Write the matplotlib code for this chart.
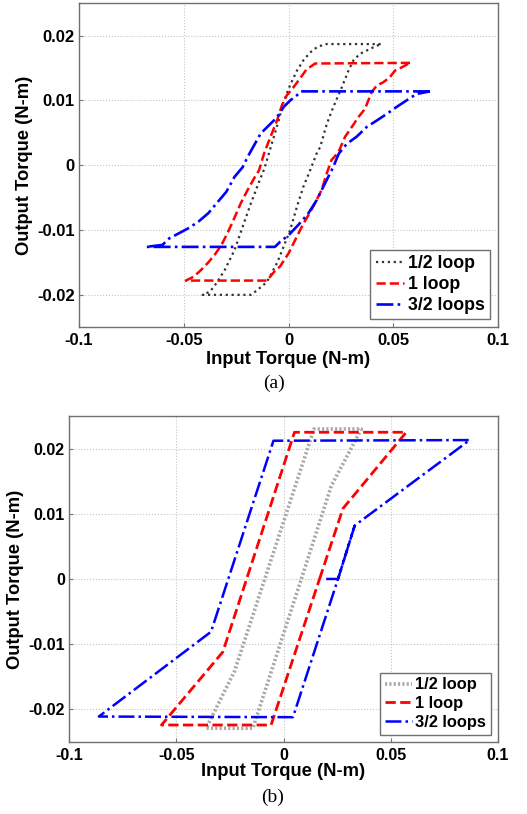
import matplotlib
matplotlib.use("Agg")
import matplotlib.pyplot as plt

# (a) measured hysteresis loops, input/output torque in N-m
half_a_x = [0.0440, 0.0175, 0.0135, 0.0103, 0.0071, 0.0040, 0.0008, -0.0024, -0.0047, -0.0070,
            -0.0094, -0.0115, -0.0140, -0.0180, -0.0219, -0.0258, -0.0305, -0.0344, -0.0375, -0.0410,
            -0.0180, -0.0150, -0.0103, -0.0055, -0.0024, 0.0008, 0.0040, 0.0071, 0.0103, 0.0134,
            0.0151, 0.0183, 0.0214, 0.0254, 0.0286, 0.0310, 0.0341, 0.0373, 0.0405, 0.0440]
half_a_y = [0.0187, 0.0187, 0.0182, 0.0174, 0.0162, 0.0146, 0.0124, 0.0098, 0.0069, 0.0044,
            0.0018, -0.0005, -0.0025, -0.0059, -0.0095, -0.0131, -0.0162, -0.0182, -0.0195, -0.0200,
            -0.0200, -0.0193, -0.0180, -0.0151, -0.0126, -0.0100, -0.0064, -0.0033, -0.0008, 0.0018,
            0.0028, 0.0064, 0.0090, 0.0120, 0.0146, 0.0162, 0.0172, 0.0177, 0.0182, 0.0187]

one_a_x = [0.0580, 0.0127, 0.0086, 0.0055, 0.0023, -0.0008, -0.0031, -0.0055, -0.0086, -0.0117,
           -0.0141, -0.0164, -0.0195, -0.0227, -0.0258, -0.0289, -0.0320, -0.0352, -0.0383, -0.0422,
           -0.0453, -0.0490, -0.0103, -0.0070, -0.0040, 0.0000, 0.0040, 0.0071, 0.0095, 0.0126,
           0.0158, 0.0182, 0.0205, 0.0238, 0.0270, 0.0302, 0.0333, 0.0365, 0.0381, 0.0397,
           0.0421, 0.0452, 0.0484, 0.0508, 0.0540, 0.0580]
one_a_y = [0.0158, 0.0157, 0.0148, 0.0134, 0.0120, 0.0108, 0.0093, 0.0069, 0.0044, 0.0018,
           -0.0008, -0.0020, -0.0038, -0.0058, -0.0081, -0.0103, -0.0123, -0.0138, -0.0150, -0.0163,
           -0.0172, -0.0178, -0.0178, -0.0165, -0.0156, -0.0136, -0.0110, -0.0090, -0.0077, -0.0059,
           -0.0038, -0.0013, 0.0008, 0.0020, 0.0044, 0.0059, 0.0074, 0.0087, 0.0100, 0.0113,
           0.0123, 0.0128, 0.0136, 0.0146, 0.0151, 0.0158]

three_a_x = [0.0675, 0.0060, 0.0040, 0.0008, -0.0023, -0.0055, -0.0086, -0.0133, -0.0164, -0.0195,
             -0.0219, -0.0258, -0.0297, -0.0344, -0.0383, -0.0430, -0.0477, -0.0523, -0.0570, -0.0602,
             -0.0680, -0.0065, -0.0040, 0.0000, 0.0047, 0.0095, 0.0134, 0.0174, 0.0213, 0.0240,
             0.0278, 0.0325, 0.0373, 0.0421, 0.0468, 0.0516, 0.0563, 0.0611, 0.0675]
three_a_y = [0.0114, 0.0114, 0.0108, 0.0100, 0.0090, 0.0074, 0.0064, 0.0049, 0.0031, 0.0013,
             -0.0003, -0.0018, -0.0041, -0.0059, -0.0074, -0.0087, -0.0097, -0.0105, -0.0113, -0.0123,
             -0.0126, -0.0126, -0.0118, -0.0108, -0.0092, -0.0074, -0.0054, -0.0028, -0.0003, 0.0018,
             0.0033, 0.0044, 0.0059, 0.0069, 0.0079, 0.0090, 0.0100, 0.0110, 0.0114]

# (b) simulated loops (piecewise linear)
half_b_x = [0.0083, 0.0223, 0.0363, 0.0142, -0.0229, -0.0361, -0.0143, 0.0083]
half_b_y = [0.0, 0.0143, 0.0230, 0.0230, -0.0142, -0.0229, -0.0229, 0.0]
one_b_x = [0.0168, 0.0277, 0.0572, 0.0051, -0.0283, -0.0569, -0.0058, 0.0168]
one_b_y = [0.0, 0.0108, 0.0225, 0.0225, -0.0112, -0.0224, -0.0224, 0.0]
three_b_x = [0.0199, 0.0254, 0.0332, 0.0868, -0.0047, -0.0338, -0.0861, 0.0044, 0.0254, 0.0332]
three_b_y = [0.0, 0.0, 0.0082, 0.0213, 0.0212, -0.0081, -0.0211, -0.0212, 0.0, 0.0082]

labels = ["1/2 loop", "1 loop", "3/2 loops"]
x_ticks = [-0.1, -0.05, 0, 0.05, 0.1]
x_ticklabels = ["-0.1", "-0.05", "0", "0.05", "0.1"]
y_ticks = [-0.02, -0.01, 0, 0.01, 0.02]
y_ticklabels = ["-0.02", "-0.01", "0", "0.01", "0.02"]

plt.rcParams['font.family'] = ['Liberation Sans', 'DejaVu Sans']
plt.rcParams['font.weight'] = 'bold'

fig = plt.figure(figsize=(5.27, 8.14), dpi=100)
ax1 = fig.add_axes([0.150, 0.598, 0.795, 0.398])
ax2 = fig.add_axes([0.131, 0.0885, 0.814, 0.4005])


def style_axes(ax, fs, lab_fs, ylab_x, xlab_y):
    ax.set_xlim(-0.1, 0.1)
    ax.set_ylim(-0.025, 0.025)
    ax.set_xticks(x_ticks)
    ax.set_xticklabels(x_ticklabels, fontsize=fs, fontweight='bold')
    ax.set_yticks(y_ticks)
    ax.set_yticklabels(y_ticklabels, fontsize=fs, fontweight='bold')
    ax.tick_params(direction='in', length=3, color='#777777', pad=4)
    ax.tick_params(axis='y', pad=3)
    ax.grid(True, linestyle=':', color='#c4c4c4', linewidth=0.8)
    ax.set_axisbelow(True)
    for s in ax.spines.values():
        s.set_color('#6f6f6f')
        s.set_linewidth(1.0)
    ax.set_xlabel("Input Torque (N-m)", fontsize=lab_fs, fontweight='bold')
    ax.set_ylabel("Output Torque (N-m)", fontsize=lab_fs, fontweight='bold')
    # label anchors: right edge of the y label, top edge of the x label
    ax.yaxis.set_label_coords(ylab_x, 0.5)
    ax.xaxis.set_label_coords(0.5, xlab_y)


# top: experimental
ax1.plot(half_a_x, half_a_y, color='#333333', linestyle=':', linewidth=1.6, label=labels[0])
ax1.plot(one_a_x, one_a_y, color='red', linestyle='--', linewidth=1.8, label=labels[1])
ax1.plot(three_a_x, three_a_y, color='blue', linestyle='-.', linewidth=1.9, label=labels[2])
style_axes(ax1, 12, 13.2, -0.110, -0.072)
leg1 = ax1.legend(loc='lower right', fontsize=12.8, handlelength=1.6, handletextpad=0.2,
                  labelspacing=0.22, borderpad=0.3, borderaxespad=0.45, fancybox=False,
                  framealpha=1, edgecolor='#6f6f6f')
for t in leg1.get_texts():
    t.set_fontweight('bold')

# bottom: simulated
ax2.plot(half_b_x, half_b_y, color='#a8a8a8', linestyle=(0, (0.6, 0.6)), linewidth=2.6, label=labels[0])
ax2.plot(one_b_x, one_b_y, color='red', linestyle='--', linewidth=2.0, label=labels[1])
ax2.plot(three_b_x, three_b_y, color='blue', linestyle='-.', linewidth=1.8, label=labels[2])
style_axes(ax2, 11.5, 13.2, -0.104, -0.066)
leg2 = ax2.legend(loc='lower right', fontsize=11.8, handlelength=1.6, handletextpad=0.2,
                  labelspacing=0.22, borderpad=0.3, borderaxespad=0.45, fancybox=False,
                  framealpha=1, edgecolor='#6f6f6f')
for t in leg2.get_texts():
    t.set_fontweight('bold')

fig.text(0.52, 0.5295, "(a)", ha='center', va='center', fontsize=14,
         fontweight='normal', family='Liberation Serif')
fig.text(0.518, 0.021, "(b)", ha='center', va='center', fontsize=14,
         fontweight='normal', family='Liberation Serif')

fig.savefig("out.png", dpi=100)
